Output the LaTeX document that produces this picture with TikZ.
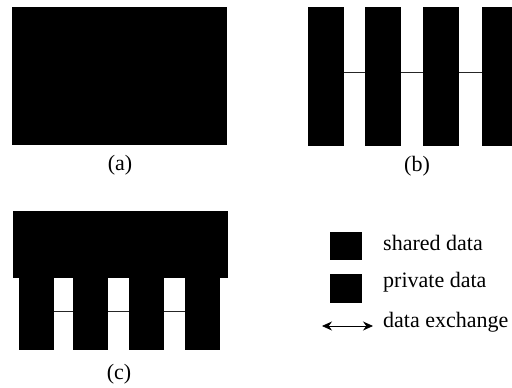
\documentclass[tikz,border=0pt]{standalone}
\usepackage{fontspec}
\setmainfont{Liberation Serif}
\usetikzlibrary{arrows.meta}
\begin{document}
\begin{tikzpicture}[x=1pt,y=-1pt,
  blk/.style={fill=black,draw=none,inner sep=0pt,anchor=north west},
  lbl/.style={font=\fontsize{22}{24}\selectfont,inner sep=0pt},
  link/.style={line width=1pt,black!85}]
\useasboundingbox (0,0) rectangle (512,388);
% (a)
\node[blk,minimum width=215pt,minimum height=138pt] (A) at (12,7) {};
\node[lbl] (la) at (120,165) {(a)};
% (b)
\node[blk,minimum width=36pt,minimum height=139pt] (b1) at (308,7) {};
\node[blk,minimum width=36pt,minimum height=139pt] (b2) at (365,7) {};
\node[blk,minimum width=36pt,minimum height=139pt] (b3) at (423,7) {};
\node[blk,minimum width=36pt,minimum height=139pt] (b4) at (482,7) {};
\draw[link] ([yshift=4.5pt]b1.east) -- ([yshift=4.5pt]b2.west);
\draw[link] ([yshift=4.5pt]b2.east) -- ([yshift=4.5pt]b3.west);
\draw[link] ([yshift=4.5pt]b3.east) -- ([yshift=4.5pt]b4.west);
\node[lbl] (lb) at (417,166) {(b)};
% (c)
\node[blk,minimum width=215pt,minimum height=67pt] (C) at (13,211) {};
\node[blk,minimum width=35pt,minimum height=74pt] (c1) at (19,276) {};
\node[blk,minimum width=35pt,minimum height=74pt] (c2) at (73,276) {};
\node[blk,minimum width=35pt,minimum height=74pt] (c3) at (129,276) {};
\node[blk,minimum width=35pt,minimum height=74pt] (c4) at (185,276) {};
\draw[link] ([yshift=2pt]c1.east) -- ([yshift=2pt]c2.west);
\draw[link] ([yshift=2pt]c2.east) -- ([yshift=2pt]c3.west);
\draw[link] ([yshift=2pt]c3.east) -- ([yshift=2pt]c4.west);
\node[lbl] (lc) at (119,374) {(c)};
% legend
\node[blk,minimum width=32pt,minimum height=28pt] (s1) at (330,232) {};
\node[blk,minimum width=32pt,minimum height=29pt] (s2) at (330,274) {};
\coordinate (e1) at (322,326);
\coordinate (e2) at (373,326);
\draw[line width=0.8pt,{Stealth[length=10pt,width=9pt]}-{Stealth[length=10pt,width=9pt]}] (e1) -- (e2);
\node[lbl,anchor=west] (t1) at (383,243) {shared data};
\node[lbl,anchor=west] (t2) at (383,282) {private data};
\node[lbl,anchor=west] (t3) at (383,322) {data exchange};
\end{tikzpicture}
\end{document}
